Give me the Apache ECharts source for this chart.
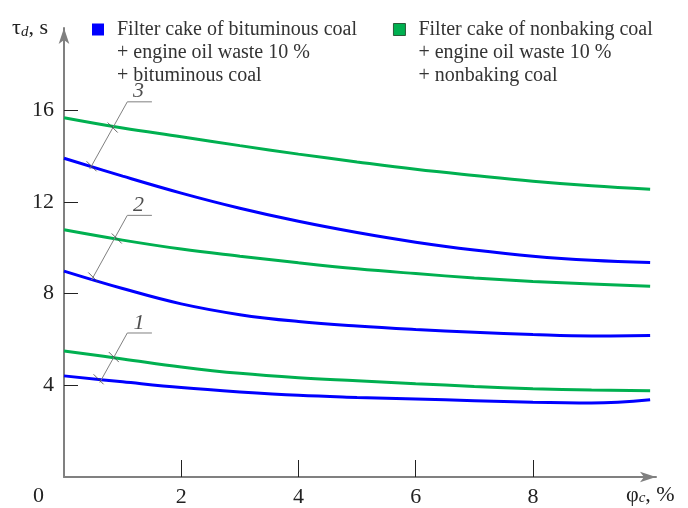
<!DOCTYPE html>
<html>
<head>
<meta charset="utf-8">
<script src="https://cdn.jsdelivr.net/npm/echarts@6/dist/echarts.min.js"></script>
<style>
html,body{margin:0;padding:0;background:#fff;}
#chart{width:688px;height:508px;}
</style>
</head>
<body>
<div id="chart"></div>
<script>
// ---- data ----
const xValues = [0, 1, 2, 3, 4, 5, 6, 7, 8, 9, 10];
const blue1  = [4.41, 4.15, 3.90, 3.71, 3.56, 3.47, 3.40, 3.33, 3.26, 3.23, 3.37];
const green1 = [5.49, 5.15, 4.80, 4.52, 4.33, 4.20, 4.07, 3.95, 3.85, 3.79, 3.76];
const blue2  = [8.98, 8.22, 7.55, 7.08, 6.78, 6.58, 6.43, 6.31, 6.21, 6.15, 6.17];
const green2 = [10.78, 10.33, 9.94, 9.63, 9.34, 9.08, 8.87, 8.68, 8.53, 8.42, 8.32];
const blue3  = [13.90, 13.12, 12.38, 11.72, 11.15, 10.66, 10.24, 9.90, 9.63, 9.45, 9.35];
const green3 = [15.67, 15.22, 14.84, 14.45, 14.08, 13.74, 13.42, 13.15, 12.90, 12.70, 12.55];

const yTicks = [4, 8, 12, 16];
const xTicks = [2, 4, 6, 8];

const legendBlue  = 'Filter cake of bituminous coal\n+ engine oil waste 10 %\n+ bituminous coal';
const legendGreen = 'Filter cake of nonbaking coal\n+ engine oil waste 10 %\n+ nonbaking coal';

// curve labels: leader polyline (data coords), crossing marks, label text position
const curveLabels = ['1', '2', '3'];
const labelPos = [[1.28, 6.72], [1.27, 11.84], [1.27, 16.82]];
const leader1 = [[1.50, 6.28], [1.08, 6.28], [0.61, 4.12]];
const leader2 = [[1.50, 11.41], [1.08, 11.41], [0.47, 8.59]];
const leader3 = [[1.50, 16.36], [1.08, 16.36], [0.44, 13.43]];
const crossMarks = [[0.85, 5.23], [0.59, 4.26], [0.90, 10.40], [0.50, 8.70], [0.83, 15.24], [0.47, 13.55]];

const BLUE = '#0000ff';
const GREEN = '#00b050';
const FONT = 'Liberation Serif';

function pairs(ys) { return xValues.map((x, i) => [x, ys[i]]); }

function curve(name, ys, color) {
  return {
    type: 'line', name: name, data: pairs(ys), smooth: 0.4,
    symbol: 'none', lineStyle: { color: color, width: 3 }, itemStyle: { color: color },
    silent: true, z: 3
  };
}

const chart = echarts.init(document.getElementById('chart'), null, { renderer: 'canvas' });

const option = {
  animation: false,
  backgroundColor: '#fff',
  textStyle: { fontFamily: FONT },
  grid: { left: 64, right: 32, top: 28, bottom: 28, containLabel: false },
  legend: {
    left: 92, top: -28, padding: 0,
    itemWidth: 12, itemHeight: 12, itemGap: 36, icon: 'rect',
    selectedMode: false,
    formatter: name => '\n\n' + name,
    textStyle: { fontFamily: FONT, fontSize: 20, color: '#333', lineHeight: 23, padding: [0, 0, 0, 8] },
    data: [
      { name: legendBlue, itemStyle: { color: BLUE } },
      { name: legendGreen, itemStyle: { color: GREEN, borderColor: '#2a5a3a', borderWidth: 1 } }
    ]
  },
  xAxis: {
    type: 'value', min: 0, max: 10.1,
    splitLine: { show: false },
    axisLine: { show: true, onZero: false, lineStyle: { color: '#808080', width: 2 }, symbol: ['none', 'arrow'], symbolSize: [8, 16] },
    axisTick: { show: true, inside: true, length: 17, customValues: xTicks, lineStyle: { color: '#222', width: 1 } },
    axisLabel: { show: true, customValues: xTicks, margin: 9, fontFamily: FONT, fontSize: 22, color: '#222' },
    name: '{a|φ}{s|c}{a|, %}',
    nameLocation: 'end', nameGap: -30,
    nameTextStyle: {
      align: 'left', verticalAlign: 'top', padding: [7, 0, 0, 0],
      rich: {
        a: { fontFamily: FONT, fontSize: 22, color: '#222' },
        s: { fontFamily: FONT, fontSize: 15, fontStyle: 'italic', color: '#222', padding: [6, 0, 0, 0] }
      }
    }
  },
  yAxis: {
    type: 'value', min: 0, max: 19.58,
    splitLine: { show: false },
    axisLine: { show: true, onZero: false, lineStyle: { color: '#808080', width: 2 }, symbol: ['none', 'arrow'], symbolSize: [8, 16] },
    axisTick: { show: true, inside: true, length: 14, customValues: yTicks, lineStyle: { color: '#222', width: 1 } },
    axisLabel: { show: true, customValues: yTicks, margin: 10, fontFamily: FONT, fontSize: 22, color: '#222' },
    name: '{a|τ}{s|d}{a|, s}',
    nameLocation: 'end', nameGap: 0,
    nameTextStyle: {
      align: 'right', verticalAlign: 'middle', padding: [0, 16, 0, 0],
      rich: {
        a: { fontFamily: FONT, fontSize: 22, color: '#222' },
        s: { fontFamily: FONT, fontSize: 15, fontStyle: 'italic', color: '#222', padding: [8, 0, 0, 0] }
      }
    }
  },
  graphic: [
    { type: 'text', left: 33, top: 485, silent: true,
      style: { text: '0', fontFamily: FONT, fontSize: 22, fill: '#222' } }
  ],
  series: [
    curve(legendBlue, blue1, BLUE),
    curve(legendGreen, green1, GREEN),
    curve(legendBlue, blue2, BLUE),
    curve(legendGreen, green2, GREEN),
    curve(legendBlue, blue3, BLUE),
    curve(legendGreen, green3, GREEN),
    {
      type: 'lines', name: 'leaders', coordinateSystem: 'cartesian2d', polyline: true, silent: true,
      lineStyle: { color: '#808080', width: 1, opacity: 1 }, z: 4,
      data: [{ coords: leader1 }, { coords: leader2 }, { coords: leader3 }]
    },
    {
      type: 'scatter', name: 'marks', silent: true, z: 5,
      symbol: 'path://M0,0L10,10', symbolSize: 10,
      itemStyle: { color: 'none', borderColor: '#444', borderWidth: 1 },
      data: crossMarks
    },
    {
      type: 'scatter', name: 'curveLabels', silent: true, z: 6,
      symbol: 'circle', symbolSize: 1, itemStyle: { color: 'rgba(0,0,0,0)' },
      label: {
        show: true, position: 'inside', formatter: p => p.data[2],
        fontFamily: FONT, fontSize: 22, fontStyle: 'italic', color: '#222'
      },
      data: labelPos.map((p, i) => [p[0], p[1], curveLabels[i]])
    }
  ]
};
chart.setOption(option);
</script>
</body>
</html>
